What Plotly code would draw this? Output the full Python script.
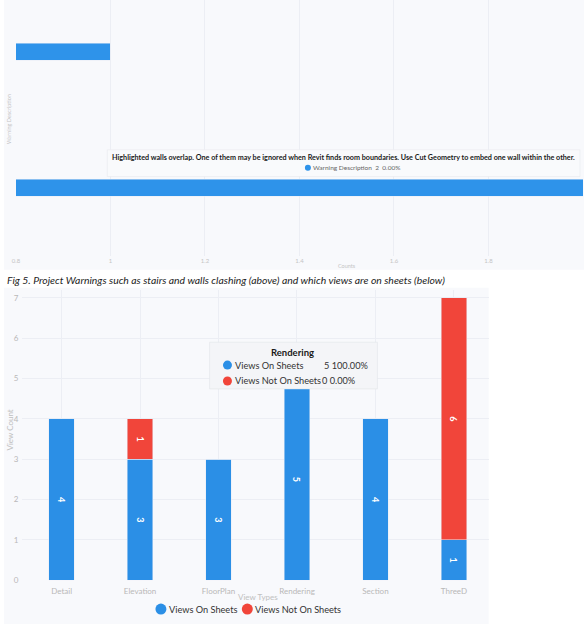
import plotly.graph_objects as go

W, H = 584, 629

# ---- Data: project warnings (top chart) ----
warning_descriptions = [
    "Highlighted walls overlap. One of them may be ignored when Revit finds room boundaries. Use Cut Geometry to embed one wall within the other.",
    "Stairs overlap walls",
]
warning_counts = [2, 1]
count_ticks = [0.8, 1, 1.2, 1.4, 1.6, 1.8, 2]
count_ticktext = ["0.8", "1", "1.2", "1.4", "1.6", "1.8", "2"]

# ---- Data: views on sheets (bottom chart) ----
view_types = ["Detail", "Elevation", "FloorPlan", "Rendering", "Section", "ThreeD"]
views_on_sheets = [4, 3, 3, 5, 4, 1]
views_not_on_sheets = [0, 1, 0, 0, 0, 6]
series_names = ["Views On Sheets", "Views Not On Sheets"]

BLUE = "#2b8fe6"
RED = "#f1453a"
BG = "#f8f9fc"
GRID = "#eceef4"
TICK = "#b8b8b8"
FONT = "Lato"


def px_x(x):
    return x / W


def px_y(y):
    return 1 - y / H


def dot(cx, cy, d, color):
    return dict(type="circle", xref="paper", yref="paper",
                xsizemode="pixel", ysizemode="pixel",
                xanchor=px_x(cx), yanchor=px_y(cy),
                x0=-d / 2, x1=d / 2, y0=-d / 2, y1=d / 2,
                fillcolor=color, line=dict(width=0))


def label(x, y, text, size, color="#333", xanchor="center", **kw):
    return dict(xref="paper", yref="paper", showarrow=False,
                x=px_x(x), y=px_y(y), xanchor=xanchor, yanchor="middle",
                text=text, font=dict(size=size, color=color, family=FONT), **kw)


fig = go.Figure()

# top horizontal bar chart
fig.add_trace(go.Bar(
    y=warning_descriptions, x=warning_counts, orientation="h",
    marker=dict(color="#2e93ea"), width=0.125, showlegend=False,
    xaxis="x", yaxis="y", hoverinfo="x+y",
))

# bottom stacked bars
for vals, nm, col in [(views_on_sheets, series_names[0], BLUE),
                      (views_not_on_sheets, series_names[1], RED)]:
    fig.add_trace(go.Bar(
        x=view_types, y=vals, name=nm,
        marker=dict(color=col), width=0.325, showlegend=False,
        text=[f"<b>{v}</b>" if v else "" for v in vals],
        textposition="inside", insidetextanchor="middle", textangle=90,
        textfont=dict(color="white", size=9, family=FONT),
        xaxis="x2", yaxis="y2",
    ))

shapes = [
    dict(type="rect", xref="paper", yref="paper", x0=0, x1=1,
         y0=px_y(272), y1=1, fillcolor=BG, line=dict(width=0), layer="below"),
    dict(type="rect", xref="paper", yref="paper", x0=0, x1=px_x(488),
         y0=0, y1=px_y(290), fillcolor=BG, line=dict(width=0), layer="below"),
    # tooltip boxes
    dict(type="rect", xref="paper", yref="paper", x0=px_x(104), x1=px_x(580),
         y0=px_y(178), y1=px_y(151), fillcolor="#f9fafc",
         line=dict(width=0.6, color="#e8eaef")),
    dict(type="rect", xref="paper", yref="paper", x0=px_x(207), x1=px_x(376),
         y0=px_y(392), y1=px_y(345), fillcolor="#f4f5f8",
         line=dict(width=0.6, color="#e3e5ea")),
    # tooltip dots
    dot(306, 169, 6, "#2e93ea"),
    dot(225, 368, 9, BLUE),
    dot(225, 384, 9, RED),
    # legend dots
    dot(158, 614, 11, BLUE),
    dot(245, 614, 11, RED),
]

annotations = [
    label(342, 159, "<b>" + warning_descriptions[0] + "</b>", 7.2, "#1a1a1a"),
    label(309, 169, f"Warning Description  {warning_counts[0]}  0.00%", 6.5, "#666",
          xanchor="left"),
    label(5, 120, "Warning Description", 5.5, "#c4c4c4", textangle=-90),
    label(345, 268, "Counts", 5.5, "#c4c4c4"),
    label(1, 282, "<i>Fig 5. Project Warnings such as stairs and walls clashing (above) and which views are on sheets (below)</i>",
          10.4, "#222", xanchor="left"),
    label(6, 433, "View Count", 8, "#c0c0c0", textangle=-90),
    label(256, 602, "View Types", 8, "#c0c0c0"),
    # rendering tooltip
    label(290, 355, "<b>Rendering</b>", 9.5, "#1a1a1a"),
    label(231, 368, series_names[0], 9.2, xanchor="left"),
    label(231, 384, series_names[1], 9.2, xanchor="left"),
    label(369, 368, f"{views_on_sheets[3]} 100.00%", 9.2, xanchor="right"),
    label(318, 384, f"{views_not_on_sheets[3]} 0.00%", 9.2, xanchor="left"),
    # legend labels
    label(164, 614, series_names[0], 9.2, xanchor="left"),
    label(251, 614, series_names[1], 9.2, xanchor="left"),
]

fig.update_layout(
    width=W, height=H,
    margin=dict(l=0, r=0, t=0, b=0),
    paper_bgcolor="white", plot_bgcolor="rgba(0,0,0,0)",
    barmode="stack", bargap=0.2, showlegend=False,
    font=dict(family=FONT),
    shapes=shapes, annotations=annotations,
    xaxis=dict(domain=[px_x(12), px_x(583)], anchor="y", range=[0.8, 2.0],
               tickvals=count_ticks, ticktext=count_ticktext,
               tickfont=dict(size=6, color="#c4c4c4"),
               showgrid=True, gridcolor=GRID, zeroline=False, showline=False),
    yaxis=dict(domain=[px_y(258), 1], anchor="x", type="category",
               categoryarray=warning_descriptions, range=[-0.5, 1.38],
               showticklabels=False, showgrid=False, zeroline=False),
    xaxis2=dict(domain=[px_x(18.5), px_x(488)], anchor="y2", type="category",
                categoryarray=view_types, range=[-0.5, 5.443],
                tickfont=dict(size=8, color=TICK), ticklabelstandoff=5,
                showgrid=True, gridcolor=GRID, zeroline=False),
    yaxis2=dict(domain=[px_y(585), px_y(292)], anchor="x2", range=[0, 7.2],
                dtick=1, tickfont=dict(size=8, color=TICK), ticklabelstandoff=3,
                showgrid=True, gridcolor=GRID, zeroline=False),
    hovermode="closest",
)

fig.write_html(
    "out.html",
    config={"displayModeBar": False},
    post_script="document.body.style.margin='0';document.body.style.overflow='hidden';",
)
